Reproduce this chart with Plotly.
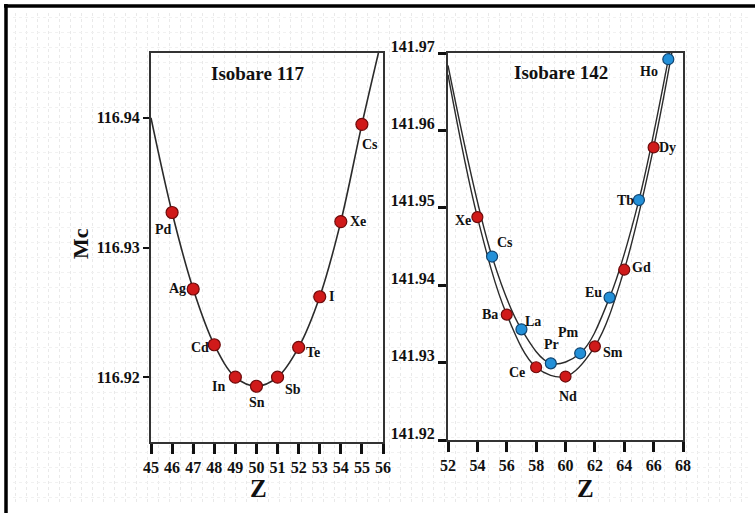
import plotly.graph_objects as go

# ---------------- data ----------------
# Isobare 117
z117 = [46, 47, 48, 49, 50, 51, 52, 53, 54, 55]
m117 = [116.9327, 116.9268, 116.9225, 116.9200, 116.9193,
        116.9200, 116.9223, 116.9262, 116.9320, 116.9395]
el117 = ["Pd", "Ag", "Cd", "In", "Sn", "Sb", "Te", "I", "Xe", "Cs"]
# fitted curve end values
curve117_start = (45, 116.9400)
curve117_end = (56, 116.9465)

# Isobare 142, even Z (red)
z142_even = [54, 56, 58, 60, 62, 64, 66]
m142_even = [141.9488, 141.9362, 141.9294, 141.9282, 141.9321, 141.9420, 141.9578]
el142_even = ["Xe", "Ba", "Ce", "Nd", "Sm", "Gd", "Dy"]
curve_even_start = (52, 141.9672)
curve_even_end = (67.5, 141.9728)

# Isobare 142, odd Z (blue)
z142_odd = [55, 57, 59, 61, 63, 65, 67]
m142_odd = [141.9437, 141.9343, 141.9299, 141.9312, 141.9384, 141.9510, 141.9692]
el142_odd = ["Cs", "La", "Pr", "Pm", "Eu", "Tb", "Ho"]
curve_odd_start = (52, 141.9684)
curve_odd_end = (67.5, 141.9745)

# ---------------- label offsets (pixels) ----------------
shift117 = {"Pd": (-9, -17), "Ag": (-16, 0), "Cd": (-14, -3), "In": (-17, -9),
            "Sn": (1, -16), "Sb": (15, -12), "Te": (14, -5), "I": (12, 0),
            "Xe": (17, 0), "Cs": (8, -20)}
shift_even = {"Xe": (-14, -3), "Ba": (-17, 0), "Ce": (-19, -5), "Nd": (2, -20),
              "Sm": (18, -6), "Gd": (17, 2), "Dy": (14, 0)}
shift_odd = {"Cs": (13, 14), "La": (12, 8), "Pr": (1, 19), "Pm": (-12, 21),
             "Eu": (-16, 5), "Tb": (-13, 0), "Ho": (-19, -12)}

W, H = 755, 513
SERIF = "Liberation Serif, Times New Roman, serif"
RED = "#d01a1a"
RED_EDGE = "#6e0b0b"
BLUE = "#2390d8"
BLUE_EDGE = "#0f4470"
LINE = "#2b2b2b"


def px_x(p):
    return p / W


def px_y(p):
    return 1 - p / H


fig = go.Figure()

# background (dotted paper texture) on x/y
fig.add_trace(go.Scatter(x=[], y=[], xaxis="x", yaxis="y", showlegend=False))

# ---- left panel (x2/y2) ----
cz = [curve117_start[0]] + z117 + [curve117_end[0]]
cm = [curve117_start[1]] + m117 + [curve117_end[1]]
fig.add_trace(go.Scatter(x=cz, y=cm, mode="lines", line=dict(color=LINE, width=1.6, shape="spline"),
                         xaxis="x2", yaxis="y2", showlegend=False, hoverinfo="skip"))
fig.add_trace(go.Scatter(x=z117, y=m117, mode="markers",
                         marker=dict(size=12, color=RED, line=dict(color=RED_EDGE, width=1.2)),
                         xaxis="x2", yaxis="y2", showlegend=False, cliponaxis=False))

# ---- right panel (x3/y3) ----
ez = [curve_even_start[0]] + z142_even + [curve_even_end[0]]
em = [curve_even_start[1]] + m142_even + [curve_even_end[1]]
oz = [curve_odd_start[0]] + z142_odd + [curve_odd_end[0]]
om = [curve_odd_start[1]] + m142_odd + [curve_odd_end[1]]
fig.add_trace(go.Scatter(x=ez, y=em, mode="lines", line=dict(color=LINE, width=1.4, shape="spline"),
                         xaxis="x3", yaxis="y3", showlegend=False, hoverinfo="skip"))
fig.add_trace(go.Scatter(x=oz, y=om, mode="lines", line=dict(color=LINE, width=1.4, shape="spline"),
                         xaxis="x3", yaxis="y3", showlegend=False, hoverinfo="skip"))
fig.add_trace(go.Scatter(x=z142_even, y=m142_even, mode="markers",
                         marker=dict(size=11, color=RED, line=dict(color=RED_EDGE, width=1.2)),
                         xaxis="x3", yaxis="y3", showlegend=False, cliponaxis=False))
fig.add_trace(go.Scatter(x=z142_odd, y=m142_odd, mode="markers",
                         marker=dict(size=11, color=BLUE, line=dict(color=BLUE_EDGE, width=1.2)),
                         xaxis="x3", yaxis="y3", showlegend=False, cliponaxis=False))

annotations = []
lab_font = dict(family=SERIF, size=14, color="#111", weight="bold")
for z, m, e in zip(z117, m117, el117):
    dx, dy = shift117[e]
    annotations.append(dict(x=z, y=m, xref="x2", yref="y2", text=e, showarrow=False,
                            xanchor="center", yanchor="middle",
                            xshift=dx, yshift=dy, font=lab_font))
for z, m, e in zip(z142_even, m142_even, el142_even):
    dx, dy = shift_even[e]
    annotations.append(dict(x=z, y=m, xref="x3", yref="y3", text=e, showarrow=False,
                            xanchor="center", yanchor="middle",
                            xshift=dx, yshift=dy, font=lab_font))
for z, m, e in zip(z142_odd, m142_odd, el142_odd):
    dx, dy = shift_odd[e]
    annotations.append(dict(x=z, y=m, xref="x3", yref="y3", text=e, showarrow=False,
                            xanchor="center", yanchor="middle",
                            xshift=dx, yshift=dy, font=lab_font))

title_font = dict(family=SERIF, size=19, color="#111", weight="bold")
z_font = dict(family=SERIF, size=25, color="#111", weight="bold")
annotations += [
    dict(x=px_x(258), y=px_y(73), text="Isobare 117", font=title_font),
    dict(x=px_x(561), y=px_y(72), text="Isobare 142", font=title_font),
    dict(x=px_x(258), y=px_y(488), text="Z", font=z_font),
    dict(x=px_x(585), y=px_y(488), text="Z", font=z_font),
    dict(x=px_x(80), y=px_y(244), text="Mc", textangle=-90,
         font=dict(family=SERIF, size=22, color="#111", weight="bold")),
]
for a in annotations[-5:]:
    a.update(xref="paper", yref="paper", showarrow=False, xanchor="center", yanchor="middle")

tick_font = dict(family=SERIF, size=16, color="#111", weight="bold")

fig.update_layout(
    template="none",
    autosize=False,
    width=W, height=H,
    margin=dict(l=0, r=0, t=0, b=0, pad=0, autoexpand=False),
    paper_bgcolor="white",
    plot_bgcolor="rgba(0,0,0,0)",
    annotations=annotations,
    xaxis=dict(domain=[px_x(13), px_x(748)], range=[0, 735], dtick=11, tick0=2,
               showgrid=True, gridcolor="#e9e9e9", griddash="dot", gridwidth=1,
               showticklabels=False, zeroline=False, showline=False, ticks="", fixedrange=True),
    yaxis=dict(domain=[px_y(502), px_y(13)], range=[0, 489], dtick=15, tick0=5,
               showgrid=True, gridcolor="#f1f1f1", griddash="dot", gridwidth=1,
               showticklabels=False, zeroline=False, showline=False, ticks="", fixedrange=True),
    xaxis2=dict(domain=[px_x(151), px_x(383)], range=[45, 56], anchor="y2",
                tickmode="linear", tick0=45, dtick=1, ticks="outside", ticklen=10, tickwidth=2.5,
                tickcolor="#111", showline=True, linecolor="#333", linewidth=2, mirror=True,
                showgrid=False, zeroline=False, tickfont=tick_font, automargin=False),
    yaxis2=dict(domain=[px_y(442), px_y(53)], range=[116.915, 116.945], anchor="x2",
                tickvals=[116.92, 116.93, 116.94], tickformat=".2f",
                ticks="outside", ticklen=6, tickwidth=2, tickcolor="#111",
                showline=True, linecolor="#333", linewidth=2, mirror=True,
                showgrid=False, zeroline=False, tickfont=tick_font, automargin=False),
    xaxis3=dict(domain=[px_x(448), px_x(683)], range=[52, 68], anchor="y3",
                tickmode="linear", tick0=52, dtick=2, ticks="outside", ticklen=10, tickwidth=2.5,
                tickcolor="#111", showline=True, linecolor="#333", linewidth=2, mirror=True,
                showgrid=False, zeroline=False, tickfont=tick_font, automargin=False),
    yaxis3=dict(domain=[px_y(440), px_y(53)], range=[141.92, 141.97], anchor="x3",
                tickmode="linear", tick0=141.92, dtick=0.01, tickformat=".2f",
                ticks="outside", ticklen=8, tickwidth=3, tickcolor="#111", ticklabelshift=-7,
                showline=True, linecolor="#333", linewidth=2, mirror=True,
                showgrid=False, zeroline=False, tickfont=tick_font, automargin=False),
    shapes=[
        dict(type="line", xref="paper", yref="paper", x0=px_x(4), x1=1, y0=px_y(6), y1=px_y(6),
             line=dict(color="black", width=3.5)),
        dict(type="line", xref="paper", yref="paper", x0=px_x(6), x1=px_x(6), y0=px_y(4), y1=0,
             line=dict(color="black", width=3.5)),
    ],
)

fig.write_html(
    "out.html",
    config={"displayModeBar": False, "responsive": False},
    post_script="document.body.style.margin='0';document.body.style.overflow='hidden';",
)
